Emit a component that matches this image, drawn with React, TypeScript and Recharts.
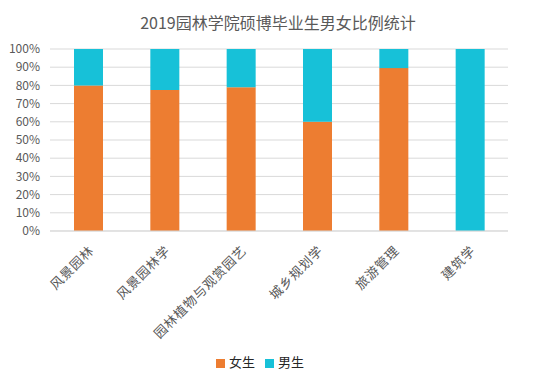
import React from 'react';
import { BarChart, Bar, XAxis, YAxis, CartesianGrid, Legend } from 'recharts';

const majors = ['风景园林', '风景园林学', '园林植物与观赏园艺', '城乡规划学', '旅游管理', '建筑学'];
const female = [80, 77.5, 79, 60, 89.5, 0];
const male = [20, 22.5, 21, 40, 10.5, 100];
const yTicks = [0, 10, 20, 30, 40, 50, 60, 70, 80, 90, 100];

const data = majors.map((name, i) => ({ name, 女生: female[i], 男生: male[i] }));

const FONT = '"Noto Sans CJK SC", "Noto Sans", sans-serif';

export default function App() {
  return (
    <div style={{ position: 'absolute', left: 0, top: 0, width: 538, height: 384, background: '#fff', fontFamily: FONT }}>
      <div
        style={{
          position: 'absolute',
          top: 10,
          left: 0,
          width: 556,
          textAlign: 'center',
          fontSize: 16,
          color: '#595959',
          lineHeight: '24px',
        }}
      >
        2019园林学院硕博毕业生男女比例统计
      </div>
      <BarChart
        width={538}
        height={384}
        data={data}
        margin={{ top: 49, right: 30, bottom: 43, left: 0 }}
        barSize={29}
      >
        <CartesianGrid vertical={false} stroke="#d9d9d9" />
        <XAxis
          dataKey="name"
          interval={0}
          tickLine={false}
          axisLine={{ stroke: '#d9d9d9' }}
          height={110}
          tick={{ fontSize: 13, fill: '#595959', fontFamily: FONT, letterSpacing: 0.8 }}
          angle={-45}
          textAnchor="end"
          tickMargin={8}
        />
        <YAxis
          width={50}
          domain={[0, 100]}
          ticks={yTicks}
          interval={0}
          tickFormatter={(v) => `${v}%`}
          tickLine={false}
          axisLine={false}
          tickMargin={4}
          tick={{ fontSize: 12, fill: '#595959', fontFamily: FONT }}
        />
        <Legend
          verticalAlign="middle"
          align="center"
          iconType="square"
          iconSize={9}
          wrapperStyle={{ top: 352, left: -4, width: 538, fontSize: 13 }}
          formatter={(value) => <span style={{ color: '#262626' }}>{value}</span>}
        />
        <Bar dataKey="女生" stackId="a" fill="#ED7D31" isAnimationActive={false} />
        <Bar dataKey="男生" stackId="a" fill="#17C1D8" isAnimationActive={false} />
      </BarChart>
    </div>
  );
}
